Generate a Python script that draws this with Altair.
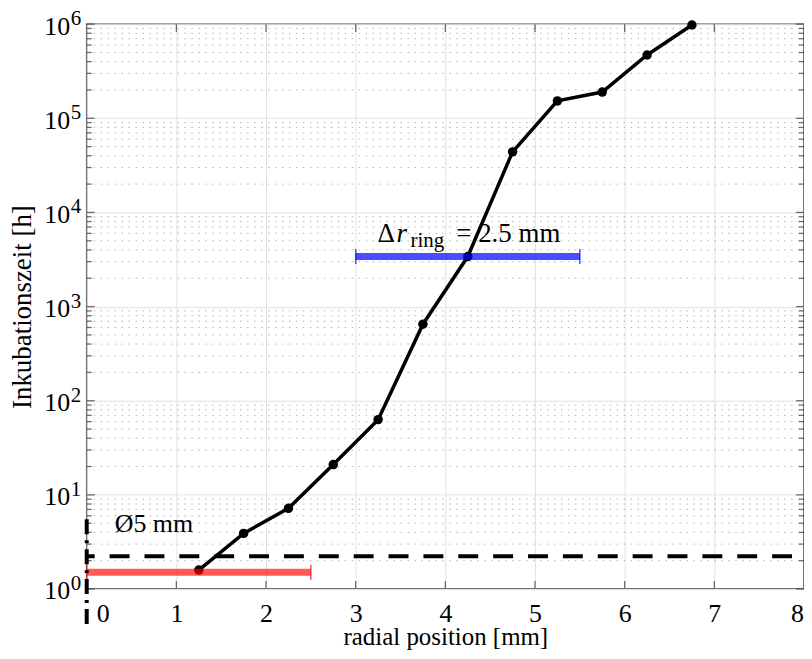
import altair as alt
import pandas as pd

# ---- data ----
radial_mm = [1.25, 1.75, 2.25, 2.75, 3.25, 3.75, 4.25, 4.75, 5.25, 5.75, 6.25, 6.75]
incubation_h = [1.59, 3.9, 7.2, 21, 63, 650, 3400, 44000, 153000, 190000, 470000, 980000]

x_ticks = [0, 1, 2, 3, 4, 5, 6, 7, 8]
x_inner_ticks = [1, 2, 3, 4, 5, 6, 7]
y_decades = [1, 10, 100, 1000, 10000, 100000, 1000000]
y_minor = [m * 10 ** k for k in range(6) for m in range(2, 10)]

red_bar_x = [0.0, 2.5]
red_bar_y = 1.51
blue_bar_x = [3.0, 5.5]
blue_bar_y = 3400
threshold_y = 2.23
threshold_x = [0.0, 8.0]
diam_x = 0.0
diam_y = [5.5, 0.42]

label_diam = "Ø5 mm"
label_ring = ["Δ", "r", "ring", "= 2.5 mm"]
label_ring_x = [3.244, 3.456, 3.611, 4.122]
label_ring_y = 5850
label_diam_xy = (0.75, 4.9)

FONT = "Liberation Serif"
xs = alt.Scale(domain=[0, 8], nice=False, zero=False)
ys = alt.Scale(type="log", domain=[1, 1e6], nice=False)

X_AX = alt.Axis(
    values=x_ticks, grid=True, gridColor="#e2e2e2", gridWidth=1,
    ticks=False, domain=False, labelFont=FONT, labelFontSize=26,
    labelColor="black", labelPadding=12, labelFlush=False, labelOverlap=False,
    labelBound=False,
    labelOffset={"condition": [{"test": "datum.value == 0", "value": 16},
                               {"test": "datum.value == 8", "value": -7}], "value": 0},
    title="radial position [mm]", titleFont=FONT, titleFontSize=25,
    titleFontWeight="normal", titleColor="black", titlePadding=-2)
Y_AX = alt.Axis(
    values=y_decades, grid=True, gridColor="#e2e2e2", gridWidth=1,
    ticks=False, domain=False, labelFont=FONT, labelFontSize=26,
    labelColor="black", labelPadding=17, labelFlush=False, labelOverlap=False,
    labelBound=False, labelBaseline="middle", labelOffset=2,
    labelExpr="'10'",
    title="Inkubationszeit [h]", titleFont=FONT, titleFontSize=27,
    titleFontWeight="normal", titleColor="black", titlePadding=7)


def X(f):
    return alt.X(f, scale=xs, axis=X_AX, title="radial position [mm]")


def Y(f):
    return alt.Y(f, scale=ys, axis=Y_AX, title="Inkubationszeit [h]")


df = pd.DataFrame({"x": radial_mm, "y": incubation_h})

minor_df = pd.DataFrame({"y": y_minor, "x": 0.0, "x1": 8.0})
minor_grid = alt.Chart(minor_df).mark_rule(color="#b5b5b5", strokeWidth=1, strokeDash=[1.5, 5.5]).encode(
    x=X("x:Q"), x2="x1:Q", y=Y("y:Q"))

# exponents of the y tick labels (10^k)
exp_df = pd.DataFrame({"y": y_decades, "x": 0.0})
exponents = alt.Chart(exp_df).transform_calculate(
    e="format(round(log(datum.y) / LN10), 'd')"
).mark_text(font=FONT, fontSize=21, color="black", align="left", baseline="middle",
            dx=-16, dy=-5, clip=False).encode(x=X("x:Q"), y=Y("y:Q"), text="e:N")

line = alt.Chart(df).mark_line(color="black", strokeWidth=3.5).encode(x=X("x:Q"), y=Y("y:Q"))
points = alt.Chart(df).mark_point(filled=True, color="black", size=90, opacity=1).encode(
    x=X("x:Q"), y=Y("y:Q"))


def yticks(vals, xpos, size, off):
    d = pd.DataFrame({"y": vals, "x": xpos})
    return alt.Chart(d).mark_tick(orient="horizontal", color="#333", size=size,
                                  thickness=1.3, xOffset=off).encode(x=X("x:Q"), y=Y("y:Q"))


def xticks(vals, ypos, size, off):
    d = pd.DataFrame({"x": vals, "y": ypos})
    return alt.Chart(d).mark_tick(orient="vertical", color="#333", size=size,
                                  thickness=1.3, yOffset=off).encode(x=X("x:Q"), y=Y("y:Q"))


tick_layers = [
    yticks(y_decades, 0.0, 8, 4), yticks(y_decades, 8.0, 8, -4),
    yticks(y_minor, 0.0, 5, 2.5), yticks(y_minor, 8.0, 5, -2.5),
    xticks(x_inner_ticks, 1.0, 8, -4), xticks(x_inner_ticks, 1e6, 8, 4),
]

red_df = pd.DataFrame({"x": [red_bar_x[0]], "x1": [red_bar_x[1]], "y": [red_bar_y]})
red_bar = alt.Chart(red_df).mark_rule(color="#ff0000", opacity=0.65, strokeWidth=7).encode(
    x=X("x:Q"), x2="x1:Q", y=Y("y:Q"))
red_ends = alt.Chart(pd.DataFrame({"x": red_bar_x, "y": red_bar_y})).mark_tick(
    orient="vertical", color="#ff0000", size=15, thickness=1.5).encode(x=X("x:Q"), y=Y("y:Q"))

blue_df = pd.DataFrame({"x": [blue_bar_x[0]], "x1": [blue_bar_x[1]], "y": [blue_bar_y]})
blue_bar = alt.Chart(blue_df).mark_rule(color="#0000ff", opacity=0.7, strokeWidth=7).encode(
    x=X("x:Q"), x2="x1:Q", y=Y("y:Q"))
blue_ends = alt.Chart(pd.DataFrame({"x": blue_bar_x, "y": blue_bar_y})).mark_tick(
    orient="vertical", color="#0000ff", size=15, thickness=1.5).encode(x=X("x:Q"), y=Y("y:Q"))

thr_df = pd.DataFrame({"x": [threshold_x[0]], "x1": [threshold_x[1]], "y": [threshold_y]})
thr_line = alt.Chart(thr_df).mark_rule(color="black", strokeWidth=4, strokeDash=[20, 15],
                                       strokeDashOffset=12).encode(
    x=X("x:Q"), x2="x1:Q", y=Y("y:Q"))

diam_df = pd.DataFrame({"x": [diam_x], "y": [diam_y[0]], "y1": [diam_y[1]]})
diam_line = alt.Chart(diam_df).mark_rule(color="black", strokeWidth=4, strokeDash=[15, 6, 3, 6],
                                         clip=False).encode(x=X("x:Q"), y=Y("y:Q"), y2="y1:Q")

diam_txt = alt.Chart(pd.DataFrame({"x": [label_diam_xy[0]], "y": [label_diam_xy[1]], "t": [label_diam]})).mark_text(
    font=FONT, fontSize=26, color="black", align="center", baseline="middle").encode(
    x=X("x:Q"), y=Y("y:Q"), text="t:N")

ring_df = pd.DataFrame({"x": label_ring_x, "y": label_ring_y, "t": label_ring})
ring_main = alt.Chart(ring_df).transform_filter("datum.t != 'ring' && datum.t != 'r'").mark_text(
    font=FONT, fontSize=27, color="black", align="left", baseline="alphabetic", dy=8).encode(
    x=X("x:Q"), y=Y("y:Q"), text="t:N")
ring_r = alt.Chart(ring_df).transform_filter("datum.t == 'r'").mark_text(
    font=FONT, fontSize=27, fontStyle="italic", color="black", align="left",
    baseline="alphabetic", dy=8).encode(x=X("x:Q"), y=Y("y:Q"), text="t:N")
ring_sub = alt.Chart(ring_df).transform_filter("datum.t == 'ring'").mark_text(
    font=FONT, fontSize=21, color="black", align="left", baseline="alphabetic", dy=13).encode(
    x=X("x:Q"), y=Y("y:Q"), text="t:N")

chart = alt.layer(
    minor_grid, line, points, *tick_layers,
    red_bar, red_ends, blue_bar, blue_ends, thr_line, diam_line,
    exponents, diam_txt, ring_main, ring_r, ring_sub,
).properties(
    width=720, height=567,
    autosize=alt.AutoSizeParams(type="none"),
    padding={"left": 79, "top": 15, "right": 0, "bottom": 62},
).configure_view(stroke="#444", strokeWidth=1.5)

chart.save("out.html", embed_options={"renderer": "svg", "actions": False})
